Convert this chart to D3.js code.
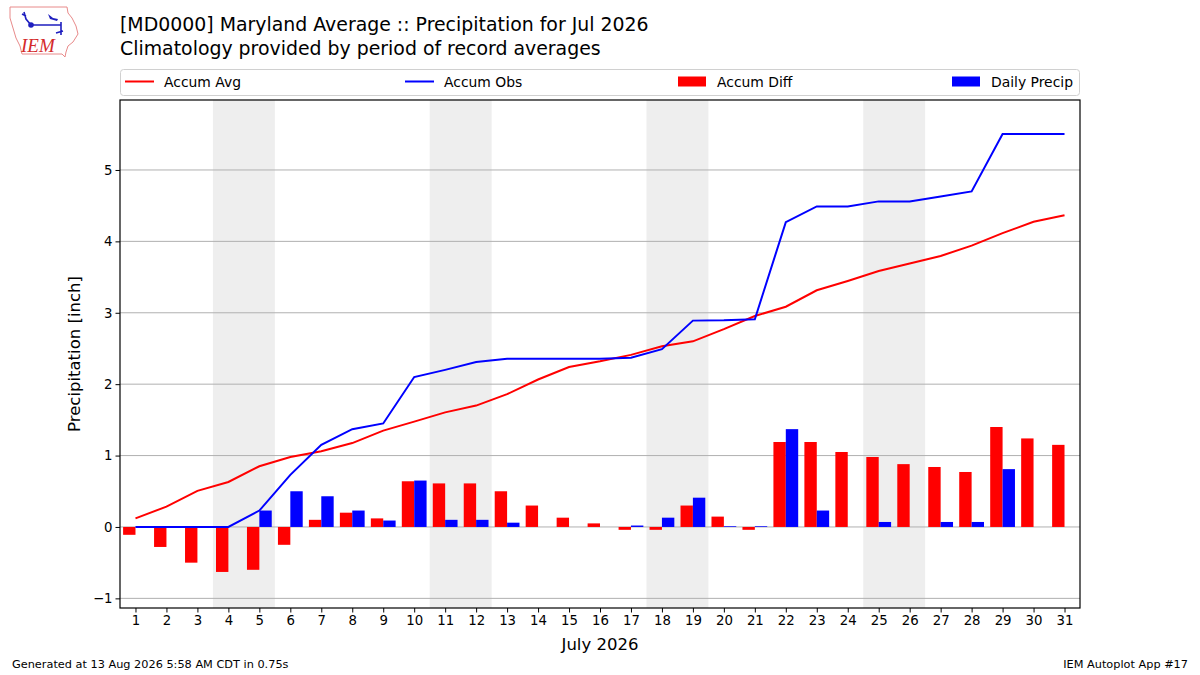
<!DOCTYPE html>
<html>
<head>
<meta charset="utf-8">
<script src="https://cdn.jsdelivr.net/npm/d3@7"></script>
<style>
  body { margin: 0; background: #fff; }
  svg { display: block; font-family: 'DejaVu Sans', sans-serif; }
</style>
</head>
<body>
<div id="chart"></div>
<script>
const days = d3.range(1, 32);
const accumAvg = [0.12, 0.285, 0.505, 0.63, 0.85, 0.98, 1.06, 1.175, 1.35, 1.475,
  1.605, 1.70, 1.86, 2.065, 2.24, 2.32, 2.41, 2.53, 2.60, 2.77,
  2.955, 3.085, 3.315, 3.445, 3.585, 3.69, 3.795, 3.94, 4.115, 4.275, 4.365];
const accumObs = [0, 0, 0, 0, 0.23, 0.73, 1.15, 1.37, 1.45, 2.10,
  2.20, 2.31, 2.355, 2.355, 2.355, 2.355, 2.37, 2.49, 2.89, 2.895,
  2.91, 4.27, 4.49, 4.49, 4.56, 4.56, 4.63, 4.70, 5.505, 5.505, 5.505];
const accumDiff = [-0.11, -0.28, -0.50, -0.63, -0.60, -0.25, 0.10, 0.20, 0.12, 0.64,
  0.61, 0.61, 0.50, 0.30, 0.13, 0.05, -0.04, -0.04, 0.30, 0.145,
  -0.04, 1.19, 1.19, 1.05, 0.98, 0.88, 0.84, 0.77, 1.40, 1.24, 1.15];
const dailyPrecip = [0, 0, 0, 0, 0.23, 0.50, 0.43, 0.23, 0.09, 0.65,
  0.10, 0.10, 0.06, 0, 0, 0, 0.02, 0.13, 0.41, 0.01,
  0.01, 1.37, 0.23, 0, 0.07, 0, 0.07, 0.07, 0.81, 0, 0];
const weekends = [[4, 5], [11, 12], [18, 19], [25, 26]];
const yTicks = [-1, 0, 1, 2, 3, 4, 5];

const W = 1200, H = 675;
const m = { left: 120, right: 120, top: 100, bottom: 67 };

const svg = d3.select('#chart').append('svg')
  .attr('width', W).attr('height', H)
  .attr('viewBox', `0 0 ${W} ${H}`);

const x = d3.scaleLinear().domain([0.5, 31.5]).range([m.left, W - m.right]);
const y = d3.scaleLinear().domain([-1.135, 5.98]).range([H - m.bottom, m.top]);

// weekend shading
svg.append('g')
  .selectAll('rect')
  .data(weekends)
  .join('rect')
  .attr('x', (d) => x(d[0] - 0.5))
  .attr('y', m.top)
  .attr('width', (d) => x(d[1] + 0.5) - x(d[0] - 0.5))
  .attr('height', y.range()[0] - m.top)
  .attr('fill', '#eeeeee');

// grid
svg.append('g')
  .selectAll('line')
  .data(yTicks)
  .join('line')
  .attr('x1', m.left).attr('x2', W - m.right)
  .attr('y1', (d) => y(d)).attr('y2', (d) => y(d))
  .attr('stroke', '#b0b0b0')
  .attr('stroke-width', 1);

const bw = x(1.4) - x(1);

svg.append('g')
  .selectAll('rect')
  .data(accumDiff)
  .join('rect')
  .attr('x', (d, i) => x(days[i] - 0.4))
  .attr('width', bw)
  .attr('y', (d) => y(Math.max(0, d)))
  .attr('height', (d) => Math.abs(y(d) - y(0)))
  .attr('fill', 'red');

svg.append('g')
  .selectAll('rect')
  .data(dailyPrecip)
  .join('rect')
  .attr('x', (d, i) => x(days[i]))
  .attr('width', bw)
  .attr('y', (d) => y(d))
  .attr('height', (d) => y(0) - y(d))
  .attr('fill', 'blue');

const line = d3.line().x((d, i) => x(days[i])).y((d) => y(d));

svg.append('path')
  .datum(accumAvg)
  .attr('d', line)
  .attr('fill', 'none')
  .attr('stroke', 'red')
  .attr('stroke-width', 2);

svg.append('path')
  .datum(accumObs)
  .attr('d', line)
  .attr('fill', 'none')
  .attr('stroke', 'blue')
  .attr('stroke-width', 2);

// frame
svg.append('rect')
  .attr('x', m.left).attr('y', m.top)
  .attr('width', W - m.left - m.right)
  .attr('height', y.range()[0] - m.top)
  .attr('fill', 'none')
  .attr('stroke', '#000')
  .attr('stroke-width', 1.2);

// axes
const xAxis = svg.append('g')
  .attr('transform', `translate(0,${y.range()[0]})`)
  .call(d3.axisBottom(x).tickValues(days).tickSize(4.5).tickPadding(3).tickFormat(d3.format('d')));
const yAxis = svg.append('g')
  .attr('transform', `translate(${m.left},0)`)
  .call(d3.axisLeft(y).tickValues(yTicks).tickSize(4.5).tickPadding(3).tickFormat((d) => d < 0 ? '\u2212' + Math.abs(d) : d));
[xAxis, yAxis].forEach((g) => {
  g.select('.domain').remove();
  g.selectAll('text').attr('font-size', 13.3).attr('font-family', "'DejaVu Sans', sans-serif").attr('fill', '#000');
  g.selectAll('line').attr('stroke', '#000');
});

svg.append('text')
  .attr('x', x(16)).attr('y', 650)
  .attr('text-anchor', 'middle')
  .attr('font-size', 16.5)
  .text('July 2026');

svg.append('text')
  .attr('transform', `translate(80,${(m.top + y.range()[0]) / 2}) rotate(-90)`)
  .attr('text-anchor', 'middle')
  .attr('font-size', 16.5)
  .text('Precipitation [inch]');

// titles
svg.append('text').attr('x', 120).attr('y', 31).attr('font-size', 18.9)
  .text('[MD0000] Maryland Average :: Precipitation for Jul 2026');
svg.append('text').attr('x', 120).attr('y', 55).attr('font-size', 18.9)
  .text('Climatology provided by period of record averages');

// legend
const lg = svg.append('g');
lg.append('rect')
  .attr('x', 120.5).attr('y', 69.5).attr('width', 959).attr('height', 26)
  .attr('rx', 3)
  .attr('fill', '#fff').attr('stroke', '#d0d0d0');
const legendItems = [
  { label: 'Accum Avg', color: 'red', kind: 'line', x: 125 },
  { label: 'Accum Obs', color: 'blue', kind: 'line', x: 405 },
  { label: 'Accum Diff', color: 'red', kind: 'bar', x: 678 },
  { label: 'Daily Precip', color: 'blue', kind: 'bar', x: 952 },
];
legendItems.forEach((d) => {
  if (d.kind === 'line') {
    lg.append('line').attr('x1', d.x).attr('x2', d.x + 29).attr('y1', 81.5).attr('y2', 81.5)
      .attr('stroke', d.color).attr('stroke-width', 2);
  } else {
    lg.append('rect').attr('x', d.x).attr('y', 76.5).attr('width', 28).attr('height', 10)
      .attr('fill', d.color);
  }
  lg.append('text').attr('x', d.x + 39).attr('y', 86.5).attr('font-size', 13.9).text(d.label);
});

// footer
svg.append('text').attr('x', 12).attr('y', 668).attr('font-size', 11.3)
  .text('Generated at 13 Aug 2026 5:58 AM CDT in 0.75s');
svg.append('text').attr('x', 1188).attr('y', 668).attr('font-size', 11.3)
  .attr('text-anchor', 'end')
  .text('IEM Autoplot App #17');

// logo (rough sketch)
const logo = svg.append('g');
logo.append('path')
  .attr('d', 'M10,7 L67,7 L68,13 L72,18 L76,26 L78,34 L73,42 L68,46 L66,52 L65,57 L62,54 L22,54 L20,46 L16,38 L13,28 L10,18 Z')
  .attr('fill', 'none').attr('stroke', '#e88a8a').attr('stroke-width', 1);
logo.append('path')
  .attr('d', 'M31,25 L61,25 M61,22 L61,35 M31,25 L26,19 L24,12 M22,14 L26,16 M56,33 L63,31')
  .attr('fill', 'none').attr('stroke', '#1f1fbf').attr('stroke-width', 1.6);
logo.append('path')
  .attr('d', 'M48,14 L53,18 L58,19 L57,21 L50,19 Z')
  .attr('fill', '#1f1fbf');
logo.append('circle').attr('cx', 31).attr('cy', 25).attr('r', 2.8).attr('fill', '#1f1fbf');
logo.append('text').attr('x', 21).attr('y', 52)
  .attr('font-family', "'Liberation Serif', serif").attr('font-style', 'italic')
  .attr('font-size', 19).attr('fill', '#d42a2a').text('IEM');
</script>
</body>
</html>
